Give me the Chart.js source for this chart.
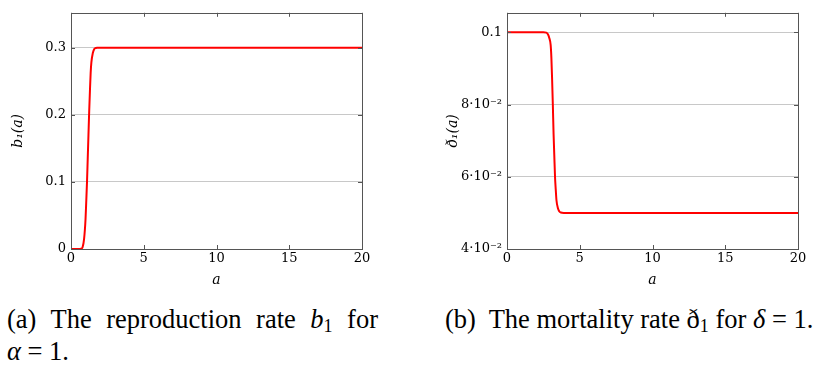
<!DOCTYPE html>
<html>
<head>
    <title>Reproduction and mortality rates</title>
    <script src="https://cdn.jsdelivr.net/npm/chart.js"></script>
    <style>
        body { margin: 0; background: #fff; width: 817px; height: 365px; overflow: hidden; position: relative; }
        canvas { position: absolute; top: 0; }
        .cap { position: absolute; font-family: "Liberation Serif", serif; font-size: 26.5px; line-height: 32px; color: #000; white-space: nowrap; }
        .cap sub { font-size: 18px; line-height: 0; vertical-align: -4px; }
        #capA1 { left: 7px; top: 303px; width: 371px; text-align: justify; text-align-last: justify; }
        #capA2 { left: 7px; top: 335px; }
        #capB { left: 445px; top: 303px; }
    </style>
</head>
<body>
    <canvas id="chartB" width="380" height="292" style="left:0px"></canvas>
    <canvas id="chartD" width="397" height="292" style="left:420px"></canvas>
    <div class="cap" id="capA1">(a) The reproduction rate <i>b</i><sub>1</sub> for</div>
    <div class="cap" id="capA2"><i>α</i> = 1.</div>
    <div class="cap" id="capB">(b)&nbsp; The mortality rate ð<sub>1</sub> for <i>δ</i> = 1.</div>

    <script>
    // (a) reproduction rate b1(a)
    const ageB  = [0, 0.5, 0.7, 0.8, 0.9, 1.0, 1.05, 1.1, 1.15, 1.2, 1.25, 1.3, 1.35, 1.4, 1.5, 1.6, 1.7, 1.8, 2, 5, 10, 15, 20];
    const rateB = [0, 0, 0.0005, 0.003, 0.015, 0.045, 0.072, 0.1, 0.135, 0.17, 0.205, 0.235, 0.262, 0.278, 0.292, 0.298, 0.2995, 0.3, 0.3, 0.3, 0.3, 0.3, 0.3];

    // (b) mortality rate d1(a)
    const ageD  = [0, 2.5, 2.7, 2.8, 2.9, 3.0, 3.05, 3.1, 3.15, 3.2, 3.25, 3.3, 3.35, 3.4, 3.5, 3.6, 3.7, 3.9, 5, 10, 15, 20];
    const rateD = [0.1, 0.1, 0.0999, 0.0995, 0.0985, 0.0965, 0.093, 0.087, 0.08, 0.072, 0.066, 0.06, 0.0565, 0.0535, 0.0513, 0.0504, 0.0501, 0.05, 0.05, 0.05, 0.05, 0.05];

    const xTicks   = [0, 5, 10, 15, 20];
    const yTicksB  = [0, 0.1, 0.2, 0.3];
    const yLabelsB = ['0', '0.1', '0.2', '0.3'];
    const yTicksD  = [0.04, 0.06, 0.08, 0.1];
    const yLabelsD = ['4·10⁻²', '6·10⁻²', '8·10⁻²', '0.1'];

    Chart.defaults.font.family = "'DejaVu Serif', serif";
    Chart.defaults.font.size = 13;
    Chart.defaults.color = '#000';
    const titleFont = { family: "'DejaVu Serif', serif", size: 14, style: 'italic' };

    // pgfplots-like frame with inward tick marks
    const frame = {
        id: 'frame',
        afterDraw(chart) {
            const { ctx, chartArea: a, scales } = chart;
            ctx.save();
            ctx.strokeStyle = '#555';
            ctx.lineWidth = 1;
            ctx.beginPath();
            scales.x.ticks.forEach(t => {
                const px = Math.round(scales.x.getPixelForValue(t.value)) + 0.5;
                ctx.moveTo(px, a.bottom); ctx.lineTo(px, a.bottom - 4);
                ctx.moveTo(px, a.top); ctx.lineTo(px, a.top + 4);
            });
            scales.y.ticks.forEach(t => {
                const py = Math.round(scales.y.getPixelForValue(t.value)) + 0.5;
                ctx.moveTo(a.left, py); ctx.lineTo(a.left + 4, py);
                ctx.moveTo(a.right, py); ctx.lineTo(a.right - 4, py);
            });
            ctx.stroke();
            ctx.strokeRect(Math.round(a.left) + 0.5, Math.round(a.top) + 0.5,
                           Math.round(a.right - a.left), Math.round(a.bottom - a.top));
            ctx.restore();
        }
    };

    function makeChart(id, xs, ys, yMin, yMax, yTicks, yLabels, yTitle, yWidth, yTitlePad, padRight) {
        return new Chart(document.getElementById(id), {
            type: 'line',
            data: {
                datasets: [{
                    data: xs.map((x, i) => ({ x: x, y: ys[i] })),
                    borderColor: '#ff0000',
                    borderWidth: 2,
                    pointRadius: 0,
                    cubicInterpolationMode: 'monotone',
                    fill: false
                }]
            },
            options: {
                responsive: false,
                animation: false,
                layout: { padding: { top: 7, right: padRight, left: 0, bottom: 0 } },
                plugins: { legend: { display: false }, tooltip: { enabled: false } },
                scales: {
                    x: {
                        type: 'linear',
                        min: 0, max: 20,
                        afterBuildTicks: s => { s.ticks = xTicks.map(v => ({ value: v })); },
                        afterFit: s => { s.height = 43; },
                        grid: { display: false, drawTicks: false },
                        border: { display: false },
                        ticks: { color: '#000', padding: 2, maxRotation: 0 },
                        title: { display: true, text: 'a', font: titleFont, color: '#000', padding: { top: 0, bottom: 3 } }
                    },
                    y: {
                        type: 'linear',
                        min: yMin, max: yMax,
                        afterBuildTicks: s => { s.ticks = yTicks.map(v => ({ value: v })); },
                        afterFit: s => { s.width = yWidth; },
                        grid: { color: '#c8c8c8', lineWidth: 1, drawTicks: false },
                        border: { display: false },
                        ticks: {
                            color: '#000', padding: 5,
                            callback: v => yLabels[yTicks.indexOf(v)]
                        },
                        title: { display: true, text: yTitle, font: titleFont, color: '#000', padding: { top: yTitlePad, bottom: 0 } }
                    }
                }
            },
            plugins: [frame]
        });
    }

    makeChart('chartB', ageB, rateB, 0, 0.352, yTicksB, yLabelsB, 'b₁(a)', 71, 9.5, 18);
    makeChart('chartD', ageD, rateD, 0.04, 0.1054, yTicksD, yLabelsD, 'ð₁(a)', 87, 24.5, 19);
    </script>
</body>
</html>
